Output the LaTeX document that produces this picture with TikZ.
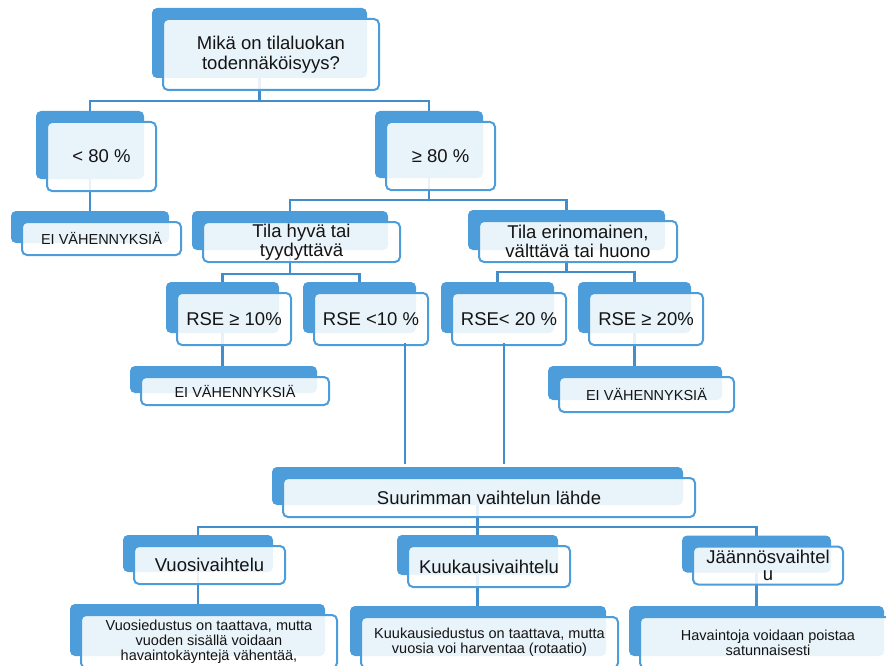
\documentclass[tikz,border=0pt]{standalone}
\usepackage{fontspec}
\setmainfont{Liberation Sans}
\usetikzlibrary{backgrounds}
\definecolor{boxblue}{RGB}{76,157,218}
\definecolor{lineblue}{RGB}{66,142,204}
\definecolor{txtgray}{RGB}{20,20,20}
\tikzset{
  frontbox/.style={draw=boxblue, line width=2pt, rounded corners=5pt, fill=white,
    fill opacity=0.88, text opacity=1, text=txtgray, align=center, inner sep=0pt,
    font=\fontsize{18.5}{20}\selectfont},
  smallbox/.style={frontbox, font=\fontsize{14.5}{15}\selectfont},
  backbox/.style={fill=boxblue, rounded corners=5pt},
  link/.style={draw=lineblue, line width=2.8pt},
}
\begin{document}
\begin{tikzpicture}[x=1pt,y=-1pt]
    \useasboundingbox (0,0) rectangle (886,666);
    \clip (0,0) rectangle (886,666);
    %KYSYMYS:
    \node[frontbox, minimum width=216pt, minimum height=71pt] (q) at (271,54.5) {Mikä on tilaluokan\\todennäköisyys?};
    %TODENNAKOISYYS:
    \node[frontbox, minimum width=109pt, minimum height=69pt] (lo) at (101.5,156.5) {< 80 \%};
    \node[frontbox, minimum width=109pt, minimum height=68pt] (hi) at (440.5,156) {≥ 80 \%};
    \node[smallbox, minimum width=159pt, minimum height=33pt] (ei1) at (101.5,238.5) {EI VÄHENNYKSIÄ};
    %TILA:
    \node[frontbox, minimum width=197pt, minimum height=40pt, font=\fontsize{18.5}{19}\selectfont] (good) at (301.5,242) {Tila hyvä tai\\tyydyttävä};
    \node[frontbox, minimum width=198pt, minimum height=41pt, font=\fontsize{18.5}{19}\selectfont] (bad) at (578,241.5) {Tila erinomainen,\\välttävä tai huono};
    %RSE:
    \node[frontbox, minimum width=114pt, minimum height=52pt] (r1) at (234,319) {RSE ≥ 10\%};
    \node[frontbox, minimum width=114pt, minimum height=52pt] (r2) at (371,319) {RSE <10 \%};
    \node[frontbox, minimum width=114pt, minimum height=52pt] (r3) at (509,319) {RSE< 20 \%};
    \node[frontbox, minimum width=114pt, minimum height=52pt] (r4) at (646,319) {RSE ≥ 20\%};
    \node[smallbox, minimum width=188pt, minimum height=28pt] (ei2) at (235,391) {EI VÄHENNYKSIÄ};
    \node[smallbox, minimum width=175pt, minimum height=35pt] (ei3) at (646.5,394.5) {EI VÄHENNYKSIÄ};
    %VAIHTELU:
    \node[frontbox, minimum width=412pt, minimum height=39pt] (src) at (489,497.5) {Suurimman vaihtelun lähde};
    \node[frontbox, minimum width=151pt, minimum height=38pt] (yr) at (209.5,565) {Vuosivaihtelu};
    \node[frontbox, minimum width=162pt, minimum height=41pt] (mo) at (489,566.5) {Kuukausivaihtelu};
    \node[frontbox, minimum width=150pt, minimum height=38pt, font=\fontsize{18.5}{17}\selectfont] (res) at (768,565.5) {Jäännösvaihtel\\u};
    \node[smallbox, minimum width=256pt, minimum height=53pt] (d1) at (209,641.5) {Vuosiedustus on taattava, mutta\\vuoden sisällä voidaan\\havaintokäyntejä vähentää,};
    \node[smallbox, minimum width=257pt, minimum height=51pt] (d2) at (489.5,642.5) {Kuukausiedustus on taattava, mutta\\vuosia voi harventaa (rotaatio)};
    \node[smallbox, minimum width=256pt, minimum height=51pt] (d3) at (768,642.5) {Havaintoja voidaan poistaa\\satunnaisesti};
    %----------------------------------
    \begin{scope}[on background layer]
     %yhteydet
     \foreach \p/\c/\h in {q/lo/23,q/hi/23,hi/good/22,hi/bad/22,good/r1/24,good/r2/24,bad/r3/22,bad/r4/22,src/yr/22,src/mo/22,src/res/22}
       \draw[link] ([xshift=-11.5pt,yshift=13pt]\p.south) -- ++(0,\h) -| ([xshift=-11.5pt,yshift=10pt]\c.north);
     \foreach \p/\c in {lo/ei1,r1/ei2,r4/ei3,yr/d1,mo/d2,res/d3}{
       \coordinate (from) at ([xshift=-11.5pt,yshift=13pt]\p.south);
       \coordinate (to) at ([yshift=10pt]\c.north);
       \draw[link] (from) -- (from |- to);
     }
     %taustalaatikot
     \foreach \n in {q,lo,hi,ei1,good,bad,r1,r2,r3,r4,ei2,ei3,src,yr,mo,res,d1,d2,d3}
       \fill[backbox] ([shift={(-10pt,10pt)}]\n.north west) rectangle ([shift={(-13pt,13pt)}]\n.south east);
    \end{scope}
    %----------------------------------
    \coordinate (srctop) at ([yshift=13pt]src.north);
    \coordinate (r2x) at ([xshift=34pt,yshift=3pt]r2.south);
    \coordinate (r3x) at ([xshift=-5pt,yshift=3pt]r3.south);
    \draw[link] (r2x) -- (r2x |- srctop);
    \draw[link] (r3x) -- (r3x |- srctop);
\end{tikzpicture}
\end{document}
